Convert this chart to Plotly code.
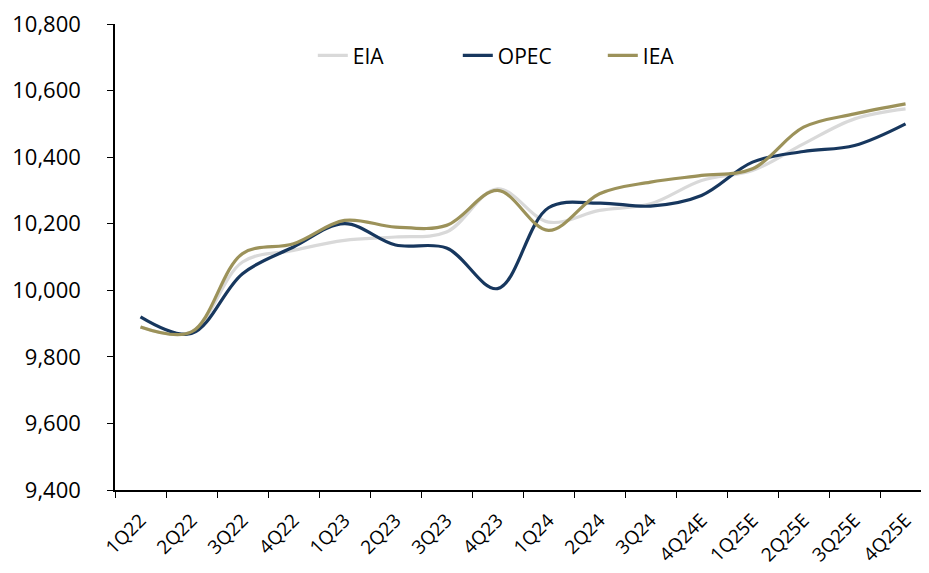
import plotly.graph_objects as go

# Quarterly world oil estimates by agency
quarters = ["1Q22", "2Q22", "3Q22", "4Q22", "1Q23", "2Q23", "3Q23", "4Q23",
            "1Q24", "2Q24", "3Q24", "4Q24E", "1Q25E", "2Q25E", "3Q25E", "4Q25E"]
eia = [9890, 9875, 10085, 10120, 10150, 10160, 10175, 10305,
       10205, 10240, 10260, 10330, 10360, 10440, 10515, 10545]
opec = [9920, 9870, 10050, 10130, 10200, 10136, 10127, 10005,
        10248, 10262, 10253, 10285, 10385, 10417, 10435, 10500]
iea = [9890, 9875, 10110, 10140, 10210, 10190, 10195, 10300,
       10180, 10290, 10325, 10345, 10365, 10490, 10530, 10560]
y_ticks = [9400, 9600, 9800, 10000, 10200, 10400, 10600, 10800]

FONT = "Open Sans, Noto Sans, DejaVu Sans, sans-serif"

series = [
    ("EIA", eia, "#d9d9d9"),
    ("OPEC", opec, "#17375e"),
    ("IEA", iea, "#9c925a"),
]

fig = go.Figure()
for name, values, colour in series:
    fig.add_trace(
        go.Scatter(
            x=quarters,
            y=values,
            mode="lines",
            name=name,
            line={"color": colour, "width": 3.2, "shape": "spline", "smoothing": 1.0},
        )
    )

# the page body adds an 8px offset, so the figure is sized to fill what is left
fig.update_layout(
    width=921,
    height=565,
    margin={"l": 107, "r": 0, "t": 14, "b": 83},
    plot_bgcolor="white",
    paper_bgcolor="white",
    font={"family": FONT, "size": 18, "color": "#000000"},
    showlegend=True,
    legend={
        "orientation": "h",
        "x": 0.243,
        "xanchor": "left",
        "y": 0.932,
        "yanchor": "middle",
        "font": {"size": 21},
        "entrywidth": 100,
        "bgcolor": "rgba(0,0,0,0)",
    },
    xaxis={
        "type": "category",
        "categoryorder": "array",
        "categoryarray": quarters,
        "range": [-0.5, 15.46],
        "showline": True,
        "linecolor": "black",
        "linewidth": 1.5,
        "ticks": "outside",
        "ticklen": 6,
        "tickcolor": "black",
        "tickson": "boundaries",
        "tickangle": -45,
        "ticklabelstandoff": 10,
        "tickfont": {"size": 19},
        "showgrid": False,
        "zeroline": False,
    },
    yaxis={
        "range": [9400, 10800],
        "tickvals": y_ticks,
        "tickformat": ",d",
        "showline": True,
        "linecolor": "black",
        "linewidth": 1.5,
        "ticks": "outside",
        "ticklen": 6,
        "tickcolor": "black",
        "ticklabelstandoff": 22,
        "ticklabeloverflow": "allow",
        "tickfont": {"size": 22},
        "showgrid": False,
        "zeroline": False,
    },
)

fig.write_html("out.html")
